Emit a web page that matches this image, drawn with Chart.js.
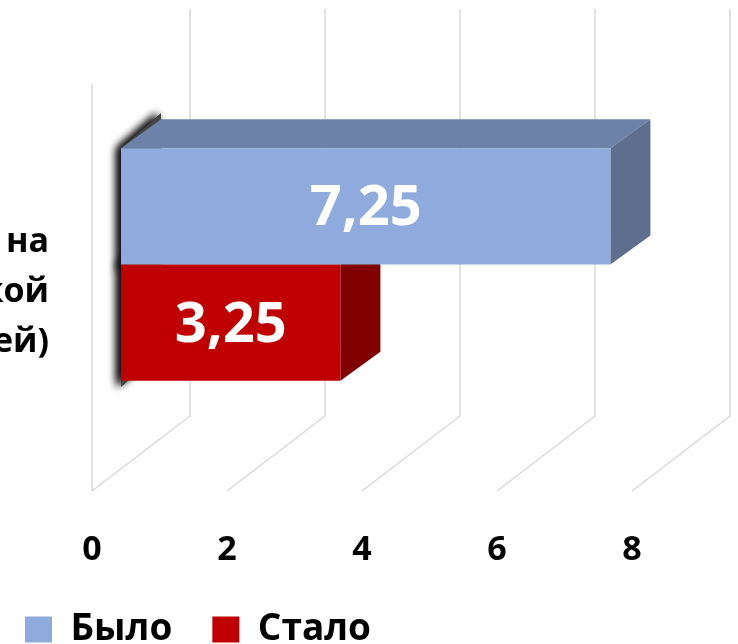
<!DOCTYPE html>
<html lang="ru">
<head>
<meta charset="utf-8">
<title>Было / Стало</title>
<script src="https://cdn.jsdelivr.net/npm/chart.js@4.4.1/dist/chart.umd.min.js"></script>
<style>
  html, body { margin: 0; padding: 0; background: #fff; }
  #wrap { width: 738px; height: 644px; }
</style>
</head>
<body>
<div id="wrap"><canvas id="myChart" width="738" height="644"></canvas></div>
<script>
// Данные
const categories = [["Срок ожидания приёма на", "консультацию врача узкой", "специальности (дней)"]];
const seriesLabels = ["Было", "Стало"];
const wasValues = [7.25];
const nowValues = [3.25];

const frontColors = ["#8FAADC", "#C00000"];
const topColors = ["#6D82A8", "#990000"];
const sideColors = ["#5D6E8F", "#800000"];

const FONT = "'Open Sans', 'DejaVu Sans', sans-serif";

// глубина объемных столбиков и стенок
const depthX = 40;
const depthY = -29;

const numberFmt = new Intl.NumberFormat("ru-RU");

const bar3dPlugin = {
  id: "bar3d",
  beforeDatasetsDraw(chart) {
    const ctx = chart.ctx;
    const area = chart.chartArea;
    const xScale = chart.scales.x;
    ctx.save();

    // сетка: задняя стенка + пол
    ctx.strokeStyle = "#D9D9D9";
    ctx.lineWidth = 1.5;
    const zero = xScale.getPixelForValue(xScale.min);
    ctx.beginPath();
    ctx.moveTo(zero - 29, area.top + 24);
    ctx.lineTo(zero - 29, area.bottom + 22);
    ctx.stroke();
    xScale.ticks.forEach((t) => {
      const px = xScale.getPixelForValue(t.value);
      ctx.beginPath();
      ctx.moveTo(px + 69, area.top - 51);
      ctx.lineTo(px + 69, area.bottom - 53);
      ctx.lineTo(px - 29, area.bottom + 22);
      ctx.stroke();
    });

    // тень слева от столбиков
    chart.data.datasets.forEach((ds, i) => {
      chart.getDatasetMeta(i).data.forEach((bar) => {
        const { base, y, height } = bar.getProps(["base", "y", "height"], true);
        const top = y - height / 2;
        const bottom = y + height / 2;
        ctx.save();
        ctx.shadowColor = "rgba(0,0,0,0.85)";
        ctx.shadowBlur = 9;
        ctx.shadowOffsetX = -4;
        ctx.shadowOffsetY = 0;
        ctx.fillStyle = "#444";
        for (let k = 0; k < 2; k++) {
          ctx.beginPath();
          ctx.moveTo(base, bottom + 6);
          ctx.lineTo(base, top);
          ctx.lineTo(base + depthX, top + depthY - 6);
          ctx.lineTo(base + depthX, bottom + depthY);
          ctx.closePath();
          ctx.fill();
        }
        ctx.restore();
      });
    });
    ctx.restore();
  },
  beforeDatasetDraw(chart, args) {
    const ctx = chart.ctx;
    const i = args.index;
    ctx.save();
    args.meta.data.forEach((bar) => {
      const { x, base, y, height } = bar.getProps(["x", "base", "y", "height"], true);
      const top = y - height / 2;
      const bottom = y + height / 2;
      // верхняя грань
      ctx.fillStyle = topColors[i];
      ctx.beginPath();
      ctx.moveTo(base, top);
      ctx.lineTo(x, top);
      ctx.lineTo(x + depthX, top + depthY);
      ctx.lineTo(base + depthX, top + depthY);
      ctx.closePath();
      ctx.fill();
      // боковая грань
      ctx.fillStyle = sideColors[i];
      ctx.beginPath();
      ctx.moveTo(x, top);
      ctx.lineTo(x + depthX, top + depthY);
      ctx.lineTo(x + depthX, bottom + depthY);
      ctx.lineTo(x, bottom);
      ctx.closePath();
      ctx.fill();
    });
    ctx.restore();
  },
  afterDatasetsDraw(chart) {
    const ctx = chart.ctx;
    ctx.save();
    ctx.font = "bold 56px " + FONT;
    ctx.fillStyle = "#FFFFFF";
    ctx.textAlign = "center";
    ctx.textBaseline = "middle";
    chart.data.datasets.forEach((ds, i) => {
      chart.getDatasetMeta(i).data.forEach((bar, j) => {
        const { x, base, y } = bar.getProps(["x", "base", "y"], true);
        ctx.fillText(numberFmt.format(ds.data[j]), (x + base) / 2, y + 3);
      });
    });
    ctx.restore();
  },
};

const config = {
  type: "bar",
  data: {
    labels: categories,
    datasets: [
      {
        label: seriesLabels[0],
        data: wasValues,
        backgroundColor: frontColors[0],
        borderWidth: 0,
        categoryPercentage: 0.569,
        barPercentage: 1,
      },
      {
        label: seriesLabels[1],
        data: nowValues,
        backgroundColor: frontColors[1],
        borderWidth: 0,
        categoryPercentage: 0.569,
        barPercentage: 1,
      },
    ],
  },
  options: {
    indexAxis: "y",
    responsive: false,
    animation: false,
    events: [],
    layout: {
      padding: { left: -15, right: 77, top: 60, bottom: 0 },
    },
    scales: {
      x: {
        type: "linear",
        min: 0,
        max: 8,
        ticks: {
          stepSize: 2,
          labelOffset: -29,
          padding: 61,
          color: "#000",
          font: { family: FONT, size: 34, weight: "bold" },
        },
        grid: { display: false, drawTicks: false },
        border: { display: false },
        afterFit: (scale) => {
          scale.height = 102;
          scale.paddingLeft = 0;
          scale.paddingRight = 0;
        },
      },
      y: {
        type: "category",
        ticks: {
          padding: 72,
          labelOffset: 28,
          color: "#000",
          font: { family: FONT, size: 34, weight: "bold", lineHeight: 50 / 34 },
        },
        grid: { display: false, drawTicks: false },
        border: { display: false },
        afterFit: (scale) => {
          scale.width = 136;
          scale.paddingTop = 0;
          scale.paddingBottom = 0;
        },
      },
    },
    plugins: {
      tooltip: { enabled: false },
      legend: {
        position: "bottom",
        align: "start",
        maxHeight: 73,
        labels: {
          boxWidth: 27,
          boxHeight: 26,
          padding: 40,
          color: "#000",
          font: { family: FONT, size: 37, weight: "bold" },
        },
      },
    },
  },
  plugins: [bar3dPlugin],
};

new Chart(document.getElementById("myChart").getContext("2d"), config);
</script>
</body>
</html>
